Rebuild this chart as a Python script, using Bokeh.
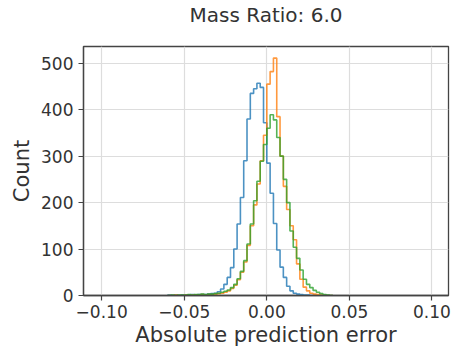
import numpy as np
from bokeh.plotting import figure
from bokeh.models import Range1d, FixedTicker, Title
from bokeh.embed import file_html
from bokeh.resources import INLINE

TITLE = "Mass Ratio: 6.0"
X_LABEL = "Absolute prediction error"
Y_LABEL = "Count"

# histogram bins: 50 bins of width 0.002 from -0.06 to 0.04
BIN_EDGES = np.round(np.linspace(-0.06, 0.04, 51), 4)

BLUE_COUNTS = [1, 0, 1, 0, 1, 1, 1, 2, 1, 2,
               2, 2, 3, 4, 5, 8, 14, 24, 39, 60,
               100, 154, 211, 290, 380, 435, 445, 457, 448, 372,
               285, 220, 155, 98, 61, 39, 20, 10, 5, 3,
               2, 1, 1, 0, 1, 0, 0, 0, 0, 0]
ORANGE_COUNTS = [0, 0, 1, 0, 0, 1, 0, 1, 1, 1,
                 2, 1, 2, 2, 3, 4, 5, 7, 10, 15,
                 22, 34, 50, 72, 108, 150, 195, 240, 290, 345,
                 455, 482, 511, 385, 300, 235, 185, 150, 120, 68,
                 35, 18, 10, 5, 3, 2, 1, 0, 0, 0]
GREEN_COUNTS = [0, 1, 0, 1, 1, 1, 2, 1, 2, 2,
                3, 2, 3, 3, 4, 5, 7, 9, 12, 17,
                24, 36, 52, 75, 111, 154, 204, 246, 289, 325,
                360, 389, 378, 340, 300, 250, 200, 139, 104, 80,
                55, 35, 24, 17, 11, 7, 4, 2, 1, 0]

SERIES = [("blue", BLUE_COUNTS, "#1f77b4"),
          ("orange", ORANGE_COUNTS, "#ff7f0e"),
          ("green", GREEN_COUNTS, "#2ca02c")]

X_TICKS = [-0.10, -0.05, 0.0, 0.05, 0.10]
X_TICK_LABELS = ["\u22120.10", "\u22120.05", "0.00", "0.05", "0.10"]
Y_TICKS = [0, 100, 200, 300, 400, 500]

FONT = "DejaVu Sans"
TEXT_COLOR = "#333333"

p = figure(width=461, height=349, output_backend="svg", toolbar_location=None,
           title=None,
           x_range=Range1d(-0.111, 0.110), y_range=Range1d(0, 536),
           min_border_left=83, min_border_right=13, min_border_top=45,
           min_border_bottom=54)

# blank spacer title next to the frame, real title stacked above it
p.add_layout(Title(text=" ", text_font=FONT, text_font_size="15px",
                   standoff=0), "above")
p.add_layout(Title(text=TITLE, align="center", vertical_align="bottom",
                   text_font=FONT, text_font_size="20px",
                   text_font_style="normal", text_color=TEXT_COLOR,
                   standoff=0), "above")

p.background_fill_color = "white"
p.border_fill_color = "white"
p.outline_line_color = "#444444"
p.outline_line_width = 1.3

for ax in (p.xaxis[0], p.yaxis[0]):
    ax.axis_line_color = "#444444"
    ax.axis_line_width = 1.3
    ax.major_tick_line_color = "#444444"
    ax.major_tick_line_width = 1.2
    ax.major_tick_out = 5
    ax.major_tick_in = 0
    ax.minor_tick_out = 0
    ax.minor_tick_in = 0
    ax.major_label_text_font = FONT
    ax.major_label_text_font_size = "17px"
    ax.major_label_text_color = TEXT_COLOR
    ax.axis_label_text_font = FONT
    ax.axis_label_text_font_size = "21px"
    ax.axis_label_text_font_style = "normal"
    ax.axis_label_text_color = TEXT_COLOR

p.xaxis.ticker = FixedTicker(ticks=X_TICKS)
p.xaxis.major_label_overrides = {t: l for t, l in zip(X_TICKS, X_TICK_LABELS)}
p.xaxis.axis_label = X_LABEL
p.xaxis.major_label_standoff = 4
p.xaxis.axis_label_standoff = 2

p.yaxis.ticker = FixedTicker(ticks=Y_TICKS)
p.yaxis.axis_label = Y_LABEL
p.yaxis.major_label_standoff = 5
p.yaxis.axis_label_standoff = 4

p.xgrid.ticker = FixedTicker(ticks=X_TICKS)
p.ygrid.ticker = FixedTicker(ticks=Y_TICKS)
p.grid.grid_line_color = "#dddddd"
p.grid.grid_line_width = 1.2

for name, counts, color in SERIES:
    xs = [BIN_EDGES[0]]
    ys = [0]
    for i, c in enumerate(counts):
        xs += [BIN_EDGES[i], BIN_EDGES[i + 1]]
        ys += [c, c]
    xs.append(BIN_EDGES[-1])
    ys.append(0)
    p.line(xs, ys, line_color=color, line_width=1.6, line_alpha=0.8)

open("out.html", "w").write(file_html(p, INLINE))
